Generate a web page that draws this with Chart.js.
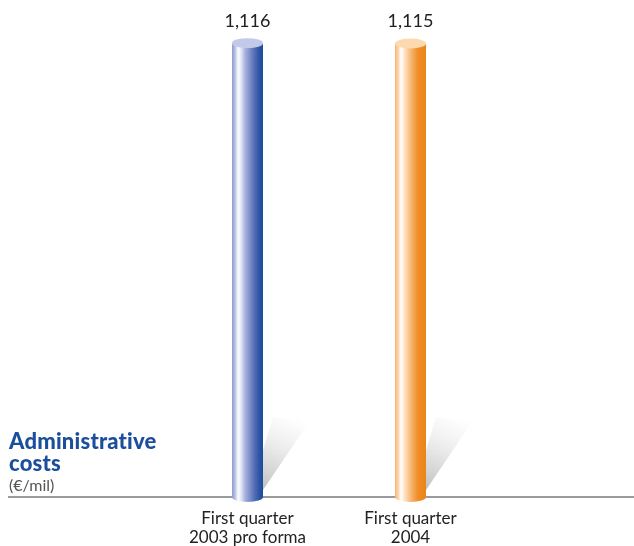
<!DOCTYPE html>
<html>
<head>
<meta charset="utf-8">
<script src="https://cdn.jsdelivr.net/npm/chart.js@4/dist/chart.umd.min.js"></script>
<style>
  html, body { margin: 0; padding: 0; background: #fff; }
  #wrap { position: relative; width: 634px; height: 546px; }
  #title { position: absolute; left: 9px; top: 430px; font-family: Lato, "Open Sans", sans-serif; }
  #title .main { color: #1b4f9c; font-weight: 900; font-size: 22px; line-height: 22px; letter-spacing: 0.2px; }
  #title .unit { color: #555; font-size: 16px; line-height: 21px; }
</style>
</head>
<body>
<div id="wrap">
  <canvas id="c" width="634" height="546"></canvas>
  <div id="title"><div class="main">Administrative<br>costs</div><div class="unit">(€/mil)</div></div>
</div>
<script>
// Administrative costs, € million
const categories = [["First quarter", "2003 pro forma"], ["First quarter", "2004"]];
const costs = [1116, 1115];
const valueLabels = ["1,116", "1,115"];

// Cylinder shading: horizontal gradient stops and cap colour per bar
const cylinderStyles = [
  { cap: "#c3cae9", stops: [[0, "#8e9ad0"], [0.1, "#b8c0e6"], [0.2, "#ffffff"], [0.3, "#dfe3f3"], [0.42, "#a9b3dd"], [0.7, "#5b72b8"], [0.88, "#2a56a3"], [1, "#1d4b9a"]] },
  { cap: "#fcd9ae", stops: [[0, "#f3b477"], [0.1, "#fbd3a7"], [0.2, "#ffffff"], [0.32, "#fde0bf"], [0.45, "#f9c48c"], [0.6, "#f4a656"], [0.75, "#ef8c24"], [1, "#ea8519"]] }
];

const cylinderPlugin = {
  id: "cylinders",
  beforeDatasetsDraw(chart) {
    const ctx = chart.ctx;
    const base = chart.scales.y.getPixelForValue(0);
    // base line across the whole width
    ctx.save();
    ctx.strokeStyle = "#7a7a7a";
    ctx.lineWidth = 1.5;
    ctx.beginPath();
    ctx.moveTo(8, base);
    ctx.lineTo(634, base);
    ctx.stroke();
    // cast shadows behind each cylinder, fading upward
    chart.getDatasetMeta(0).data.forEach((bar) => {
      const r = bar.x + bar.width / 2;
      const g = ctx.createLinearGradient(r, base, r + 36, base - 80);
      g.addColorStop(0, "rgba(170,170,170,0.85)");
      g.addColorStop(0.45, "rgba(200,200,200,0.55)");
      g.addColorStop(0.85, "rgba(228,228,228,0.22)");
      g.addColorStop(1, "rgba(240,240,240,0)");
      ctx.fillStyle = g;
      ctx.beginPath();
      ctx.moveTo(r - 2, base - 4);
      ctx.lineTo(r + 46, base - 75);
      ctx.lineTo(r + 10, base - 80);
      ctx.lineTo(r - 2, base - 40);
      ctx.closePath();
      ctx.fill();
    });
    ctx.restore();
  },
  afterDatasetsDraw(chart) {
    const ctx = chart.ctx;
    chart.getDatasetMeta(0).data.forEach((bar, i) => {
      const st = cylinderStyles[i];
      const left = bar.x - bar.width / 2;
      const w = bar.width;
      const ry = 5;
      const g = ctx.createLinearGradient(left, 0, left + w, 0);
      st.stops.forEach(([o, c]) => g.addColorStop(o, c));
      ctx.save();
      ctx.fillStyle = g;
      ctx.beginPath();
      ctx.moveTo(left, bar.y);
      ctx.lineTo(left, bar.base);
      ctx.ellipse(bar.x, bar.base, w / 2, ry, 0, Math.PI, 0, true);
      ctx.lineTo(left + w, bar.y);
      ctx.closePath();
      ctx.fill();
      ctx.fillStyle = st.cap;
      ctx.beginPath();
      ctx.ellipse(bar.x, bar.y, w / 2, ry, 0, 0, Math.PI * 2);
      ctx.fill();
      // value label above the cap
      ctx.fillStyle = "#222";
      ctx.font = "18px Lato, 'Open Sans', sans-serif";
      ctx.textAlign = "center";
      ctx.textBaseline = "middle";
      ctx.fillText(valueLabels[i], bar.x, bar.y - 22);
      ctx.restore();
    });
  }
};

new Chart(document.getElementById("c"), {
  type: "bar",
  data: {
    labels: categories,
    datasets: [{
      data: costs,
      backgroundColor: "rgba(0,0,0,0)",
      borderWidth: 0,
      barThickness: 31
    }]
  },
  options: {
    responsive: false,
    animation: false,
    layout: { padding: { left: 166, right: 142, top: 9, bottom: 0 } },
    plugins: { legend: { display: false }, tooltip: { enabled: false } },
    scales: {
      y: { display: false, min: 0, max: 1200 },
      x: {
        grid: { display: false, drawTicks: false },
        border: { display: false },
        ticks: { color: "#222", font: { family: "Lato, 'Open Sans', sans-serif", size: 17, lineHeight: 1.1 }, padding: 12, maxRotation: 0 },
        afterFit: (scale) => { scale.height = 49; }
      }
    }
  },
  plugins: [cylinderPlugin]
});
</script>
</body>
</html>
